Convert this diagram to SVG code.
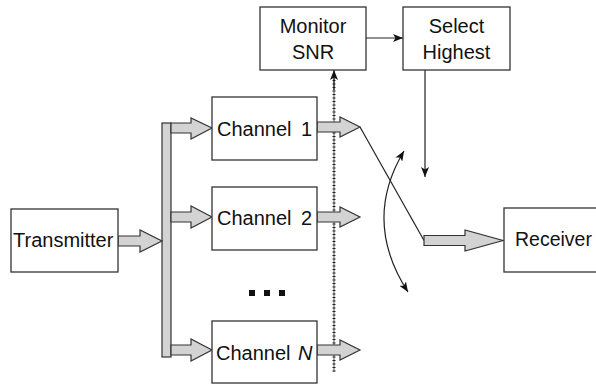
<svg xmlns="http://www.w3.org/2000/svg" width="596" height="384" viewBox="0 0 596 384">
<style>
.box{fill:#fff;stroke:#333;stroke-width:1.3}
.fat{fill:#d3d3d3;stroke:#333;stroke-width:1.2;stroke-linejoin:miter}
.t{font-family:"Liberation Sans",Arial,sans-serif;font-size:20px;fill:#111}
.ln{fill:none;stroke:#222;stroke-width:1.2}
</style>
<defs>
<marker id="ah" viewBox="0 0 10 8" refX="10" refY="4" markerWidth="10" markerHeight="8" markerUnits="userSpaceOnUse" orient="auto-start-reverse">
<path d="M0,0 L10,4 L0,8 L2.5,4 Z" fill="#111"/>
</marker>
</defs>
<rect width="596" height="384" fill="#fff"/>
<g id="connectors">
<line class="ln" x1="366" y1="38" x2="403" y2="38" marker-end="url(#ah)"/>
<line class="ln" x1="425" y1="70" x2="425" y2="177" marker-end="url(#ah)"/>
<line x1="334" y1="78" x2="334" y2="372" stroke="#555" stroke-width="1"/>
<line x1="334" y1="80" x2="334" y2="372" stroke="#222" stroke-width="3" stroke-dasharray="1 2.5"/>
<line class="ln" x1="334" y1="90" x2="334" y2="70" marker-end="url(#ah)"/>
<line class="ln" x1="360" y1="127" x2="424" y2="240.5"/>
<path class="ln" d="M404,151 Q362,221 408,292" marker-start="url(#ah)" marker-end="url(#ah)"/>
<rect class="fat" x="162" y="123" width="9" height="234"/>
<polygon class="fat" points="171,123 191,123 191,118 212,128 191,139 191,133 171,133"/>
<polygon class="fat" points="171,212 191,212 191,206 212,217 191,228 191,222 171,222"/>
<polygon class="fat" points="171,345 191,345 191,339 212,350 191,361 191,355 171,355"/>
<polygon class="fat" points="118,236 140,236 140,230 162,241 140,252 140,246 118,246"/>
<polygon class="fat" points="317,122 340,122 340,117 360,127 340,137 340,132 317,132"/>
<polygon class="fat" points="317,212 340,212 340,207 360,217 340,227 340,222 317,222"/>
<polygon class="fat" points="317,345 340,345 340,340 360,350 340,360 340,355 317,355"/>
<polygon class="fat" points="424,235.5 465,235.5 465,230 503,240.5 465,251 465,245.5 424,245.5"/>
</g>
<g id="monitor">
<rect class="box" x="260" y="7" width="106" height="63"/>
<text class="t" x="313" y="33" text-anchor="middle">Monitor</text>
<text class="t" x="313" y="59" text-anchor="middle">SNR</text>
</g>
<g id="select">
<rect class="box" x="403" y="7" width="107" height="63"/>
<text class="t" x="456.5" y="33" text-anchor="middle">Select</text>
<text class="t" x="456.5" y="59" text-anchor="middle">Highest</text>
</g>
<g id="transmitter">
<rect class="box" x="11" y="209" width="107" height="63"/>
<text class="t" x="13" y="247">Transmitter</text>
</g>
<g id="channel1">
<rect class="box" x="212" y="97" width="105" height="63"/>
<text class="t" x="217" y="136" word-spacing="4">Channel 1</text>
</g>
<g id="channel2">
<rect class="box" x="212" y="187" width="105" height="63"/>
<text class="t" x="217" y="225" word-spacing="4">Channel 2</text>
</g>
<g id="ellipsis">
<rect x="249" y="290" width="6" height="6" fill="#111"/>
<rect x="264" y="290" width="6" height="6" fill="#111"/>
<rect x="279" y="290" width="6" height="6" fill="#111"/>
</g>
<g id="channelN">
<rect class="box" x="212" y="321" width="105" height="62"/>
<text class="t" x="216" y="360" word-spacing="2">Channel <tspan font-style="italic">N</tspan></text>
</g>
<g id="receiver">
<rect class="box" x="504" y="208" width="100" height="64"/>
<text class="t" x="515" y="246" style="font-size:19.5px">Receiver</text>
</g>
</svg>
